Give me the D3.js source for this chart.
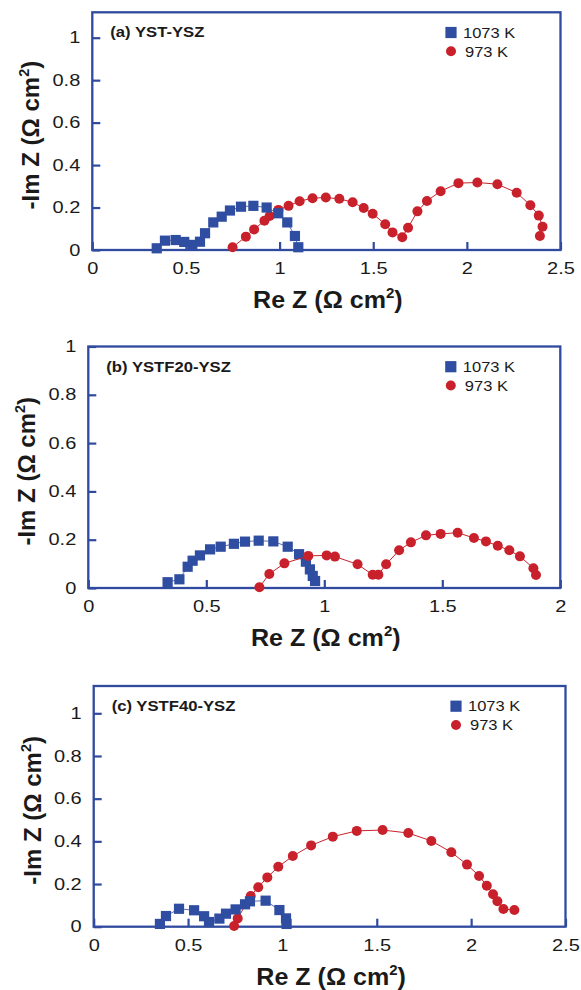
<!DOCTYPE html>
<html lang="en">
<head>
<meta charset="utf-8">
<title>Impedance spectra</title>
<script src="https://d3js.org/d3.v7.min.js"></script>
<style>
body { margin: 0; background: #fff; }
text { font-family: "Liberation Sans", Arial, Helvetica, sans-serif; fill: #1a1a1a; }
</style>
</head>
<body>
<script>

// [Re Z, -Im Z] in ohm cm2
var ystHot = [[0.344,0.008],[0.388,0.044],[0.445,0.047],[0.491,0.038],[0.534,0.024],[0.575,0.039],[0.602,0.079],[0.646,0.13],[0.691,0.157],[0.735,0.186],[0.794,0.204],[0.86,0.208],[0.931,0.2],[0.993,0.173],[1.041,0.13],[1.082,0.066],[1.1,0.013]]
var ystCold = [[0.749,0.013],[0.82,0.063],[0.864,0.097],[0.919,0.138],[0.947,0.16],[0.994,0.189],[1.048,0.208],[1.107,0.23],[1.176,0.244],[1.247,0.247],[1.319,0.241],[1.39,0.225],[1.449,0.198],[1.497,0.171],[1.564,0.121],[1.603,0.083],[1.655,0.06],[1.686,0.105],[1.736,0.182],[1.787,0.231],[1.86,0.277],[1.955,0.315],[2.056,0.318],[2.163,0.31],[2.266,0.27],[2.339,0.211],[2.384,0.162],[2.404,0.11],[2.39,0.066]]

var f20Hot = [[0.336,0.024],[0.386,0.036],[0.421,0.088],[0.442,0.113],[0.473,0.135],[0.516,0.16],[0.561,0.171],[0.617,0.183],[0.664,0.192],[0.722,0.196],[0.784,0.193],[0.845,0.171],[0.893,0.14],[0.922,0.109],[0.939,0.077],[0.951,0.05],[0.961,0.029]]
var f20Cold = [[0.725,0.003],[0.767,0.058],[0.831,0.102],[0.932,0.133],[1.01,0.135],[1.045,0.13],[1.141,0.098],[1.205,0.055],[1.229,0.055],[1.262,0.098],[1.317,0.156],[1.367,0.189],[1.431,0.218],[1.493,0.224],[1.565,0.229],[1.634,0.207],[1.685,0.193],[1.735,0.175],[1.784,0.156],[1.829,0.131],[1.886,0.082],[1.897,0.054]]

var f40Hot = [[0.351,0.013],[0.383,0.05],[0.452,0.084],[0.532,0.077],[0.585,0.049],[0.611,0.022],[0.666,0.038],[0.701,0.061],[0.752,0.081],[0.802,0.105],[0.828,0.119],[0.911,0.122],[0.984,0.078],[1.019,0.039],[1.022,0.013]]
var f40Cold = [[0.744,0.003],[0.763,0.039],[0.832,0.144],[0.872,0.185],[0.92,0.231],[0.978,0.281],[1.055,0.331],[1.152,0.381],[1.267,0.422],[1.394,0.449],[1.531,0.453],[1.667,0.439],[1.789,0.402],[1.895,0.349],[1.978,0.291],[2.042,0.238],[2.083,0.192],[2.116,0.152],[2.139,0.119],[2.171,0.083],[2.229,0.078]]

var panelNames = ["(a) YST-YSZ", "(b) YSTF20-YSZ", "(c) YSTF40-YSZ"]
var seriesNames = ["1073 K", "973 K"]
var yTicks = [0, 0.2, 0.4, 0.6, 0.8, 1]
var xTicksWide = [0, 0.5, 1, 1.5, 2, 2.5]
var xTicksNarrow = [0, 0.5, 1, 1.5, 2]

var blue = "#2f4ea1", red = "#c8212b", frameCol = "#2f4a9e"
var stretch = 1.25

var svg = d3.select("body").append("svg").attr("width", 581).attr("height", 990)

function title(g, cx, cy, size, rot, sx, main) {
    var t = g.append("text")
        .attr("transform", "translate(" + cx + "," + cy + ")" + (rot ? " rotate(-90)" : "") + " scale(" + sx + ",1)")
        .attr("text-anchor", "middle").attr("font-weight", "bold").attr("font-size", size)
    t.append("tspan").text(main + " (\u03A9 cm")
    t.append("tspan").attr("font-size", size * 0.6).attr("dy", -size * 0.42).text("2")
    t.append("tspan").attr("dy", size * 0.42).text(")")
}

function panel(box, name, hot, cold, xTicks, redOnTop) {
    var x = d3.scaleLinear().domain([0, xTicks[xTicks.length - 1]]).range([box.left, box.right])
    var y = d3.scaleLinear().domain([0, 1]).range([box.bottom, box.y1])
    var g = svg.append("g")

    var xa = g.append("g").attr("transform", "translate(0," + box.bottom + ")")
        .call(d3.axisBottom(x).tickValues(xTicks).tickFormat(d3.format("")).tickSizeInner(-8).tickSizeOuter(0).tickPadding(12.5))
    var ya = g.append("g").attr("transform", "translate(" + box.left + ",0)")
        .call(d3.axisLeft(y).tickValues(yTicks).tickFormat(d3.format("")).tickSizeInner(-8).tickSizeOuter(0).tickPadding(12))
    g.selectAll(".domain").remove()
    g.selectAll(".tick line").attr("stroke", frameCol).attr("stroke-width", 2.2)
    xa.selectAll("text").attr("font-size", 16).attr("fill", "#1a1a1a").attr("transform", "scale(" + stretch + ",1)")
    ya.selectAll("text").attr("font-size", 16).attr("fill", "#1a1a1a").attr("x", -12 / stretch).attr("transform", "scale(" + stretch + ",1)")

    g.append("rect").attr("x", box.left).attr("y", box.top)
        .attr("width", box.right - box.left).attr("height", box.bottom - box.top)
        .attr("fill", "none").attr("stroke", frameCol).attr("stroke-width", 2.3)

    var line = d3.line().x(function (d) { return x(d[0]) }).y(function (d) { return y(d[1]) })

    function drawHot() {
        g.append("path").datum(hot).attr("d", line).attr("fill", "none").attr("stroke", blue).attr("stroke-width", 1).attr("opacity", 0.8)
        g.selectAll(null).data(hot).enter().append("rect")
            .attr("x", function (d) { return x(d[0]) - 5.1 }).attr("y", function (d) { return y(d[1]) - 5.1 })
            .attr("width", 10.2).attr("height", 10.2).attr("fill", blue)
    }
    function drawCold() {
        g.append("path").datum(cold).attr("d", line).attr("fill", "none").attr("stroke", red).attr("stroke-width", 1)
        g.selectAll(null).data(cold).enter().append("circle")
            .attr("cx", function (d) { return x(d[0]) }).attr("cy", function (d) { return y(d[1]) })
            .attr("r", 5).attr("fill", red)
    }
    if (redOnTop) { drawHot(); drawCold() } else { drawCold(); drawHot() }

    // panel label
    g.append("text").attr("transform", "translate(" + (box.left + 18) + "," + (box.top + 25) + ") scale(1.19,1)")
        .attr("font-weight", "bold").attr("font-size", 14).text(name)

    // legend
    var lx = box.right - 109.5
    g.append("rect").attr("x", lx - 5.6).attr("y", box.top + 20.2 - 5.6).attr("width", 11.2).attr("height", 11.2).attr("fill", blue)
    g.append("circle").attr("cx", lx).attr("cy", box.top + 39).attr("r", 5).attr("fill", red)
    g.append("text").attr("transform", "translate(" + (lx + 12) + "," + (box.top + 25.3) + ") scale(1.1,1)")
        .attr("font-size", 15).text(seriesNames[0])
    g.append("text").attr("transform", "translate(" + (lx + 14) + "," + (box.top + 44.3) + ") scale(1.1,1)")
        .attr("font-size", 15).text(seriesNames[1])

    // axis titles
    title(g, (box.left + box.right) / 2 + 1.5, box.bottom + 58, 23, false, 1.09, "Re Z")
    title(g, box.left - 53, (box.top + box.bottom) / 2 + 4, 24, true, 1, "-Im Z")
}

panel({left: 92.3, right: 560.5, top: 12.3, y1: 37.7, bottom: 250}, panelNames[0], ystHot, ystCold, xTicksWide, false)
panel({left: 88.3, right: 560.3, top: 346.5, y1: 346.5, bottom: 588}, panelNames[1], f20Hot, f20Cold, xTicksNarrow, true)
panel({left: 93.7, right: 565.5, top: 686, y1: 713.3, bottom: 926.7}, panelNames[2], f40Hot, f40Cold, xTicksWide, false)

</script>
</body>
</html>
